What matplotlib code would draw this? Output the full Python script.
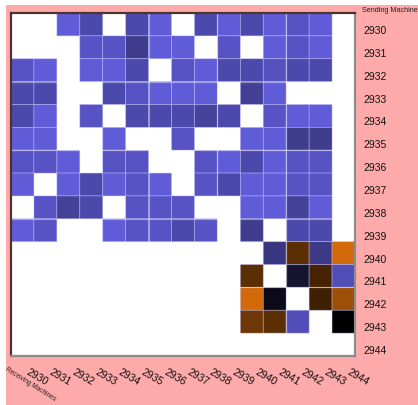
import numpy as np
import matplotlib
matplotlib.use("Agg")
import matplotlib.pyplot as plt
from matplotlib.colors import LinearSegmentedColormap
from matplotlib.patches import Rectangle
import matplotlib.transforms as mtransforms

plt.rcParams['font.family'] = ['Liberation Sans', 'DejaVu Sans']

# ---- data ----
machines = [str(m) for m in range(2930, 2945)]
N = None
# rows = sending machine, columns = receiving machine; None = no traffic
scores = [
    [N, N, 1.0, .79, N, .79, 1.0, N, .79, 1.0, .79, 1.0, .90, 1.0, N],
    [N, N, N, .90, .90, .65, 1.0, 1.0, N, .90, N, 1.0, .90, 1.0, N],
    [.90, 1.0, N, 1.0, 1.0, .79, N, .90, 1.0, .79, .79, .88, .79, .79, N],
    [.79, .79, N, N, .79, .90, 1.0, 1.0, 1.0, N, .68, 1.0, N, N, N],
    [.79, 1.0, N, .90, N, .79, .79, .79, .72, .79, N, .90, 1.0, 1.0, N],
    [1.0, 1.0, N, N, 1.0, N, N, .90, N, N, 1.0, 1.0, .66, .66, N],
    [.90, .90, 1.0, N, .90, .90, N, N, .90, 1.0, .79, 1.0, .90, .90, N],
    [1.0, N, 1.0, .79, 1.0, .90, 1.0, N, .90, .79, 1.0, 1.0, .90, .90, N],
    [N, .90, .70, .79, N, .90, .90, .90, N, N, 1.0, 1.0, .70, 1.0, N],
    [1.0, .90, N, N, 1.0, .90, .90, .79, .90, N, .66, N, .79, .79, N],
    [N, N, N, N, N, N, N, N, N, N, N, .60, -.43, .62, -1.0],
    [N, N, N, N, N, N, N, N, N, N, -.43, N, .22, -.33, .85],
    [N, N, N, N, N, N, N, N, N, N, -1.0, .11, N, -.30, -.75],
    [N, N, N, N, N, N, N, N, N, N, -.52, -.43, .85, N, 0.0],
    [N, N, N, N, N, N, N, N, N, N, N, N, N, N, N],
]

# ---- figure ----
W, H = 418, 405
fig = plt.figure(figsize=(W / 100, H / 100), dpi=100)
fig.patch.set_facecolor('white')
fig.add_artist(Rectangle((6 / W, 0), 1, 400 / H, transform=fig.transFigure,
                         facecolor='#FFAAAA', edgecolor='none', zorder=-10))

ax = fig.add_axes([11 / W, 49 / H, 344 / W, 343 / H])
ax.set_facecolor('white')

cmap = LinearSegmentedColormap.from_list('ob', ['#D2690A', '#000000', '#605CD8'])
arr = np.ma.masked_invalid(np.array(scores, dtype=float))
ax.pcolor(arr, cmap=cmap, vmin=-1, vmax=1,
          edgecolors=(0.78, 0.76, 1.0, 0.55), linewidth=0.5)

n = len(machines)
for k in (3, 6, 9, 12):
    ax.axhline(k, color='white', alpha=0.4, lw=0.9)
for k in (6, 9, 12):
    ax.axvline(k, color='white', alpha=0.4, lw=0.9)

ax.set_xlim(0, n)
ax.set_ylim(n, 0)
ticks = np.arange(n) + 0.5
ax.set_xticks(ticks)
ax.set_yticks(ticks)
ax.yaxis.tick_right()
ax.set_yticklabels(machines)
ax.set_xticklabels(machines, rotation=-30, ha='left', va='top',
                   rotation_mode='anchor')
ax.tick_params(axis='both', length=0, labelsize=7.5, colors='#111111')
ax.tick_params(axis='y', pad=6)
ax.tick_params(axis='x', pad=8)

dy = mtransforms.ScaledTranslation(0, -5.5 / 100, fig.dpi_scale_trans)
for lab in ax.get_yticklabels():
    lab.set_transform(lab.get_transform() + dy)
dx = mtransforms.ScaledTranslation(7 / 100, 0, fig.dpi_scale_trans)
for lab in ax.get_xticklabels():
    lab.set_transform(lab.get_transform() + dx)

for s in ('left', 'top'):
    ax.spines[s].set_color('#4d3232')
    ax.spines[s].set_linewidth(1.6)
for s in ('right', 'bottom'):
    ax.spines[s].set_color('#8c8c8c')
    ax.spines[s].set_linewidth(1.6)

fig.text(362 / W, 1 - 10 / H, 'Sending Machines', fontsize=5.2,
         ha='left', va='center', color='#222222')
fig.text(8 / W, 1 - 366 / H, 'Receiving Machines', fontsize=4.7,
         ha='left', va='top', rotation=-32, rotation_mode='anchor',
         color='#222222')

fig.savefig('out.png', dpi=100, facecolor=fig.get_facecolor())
